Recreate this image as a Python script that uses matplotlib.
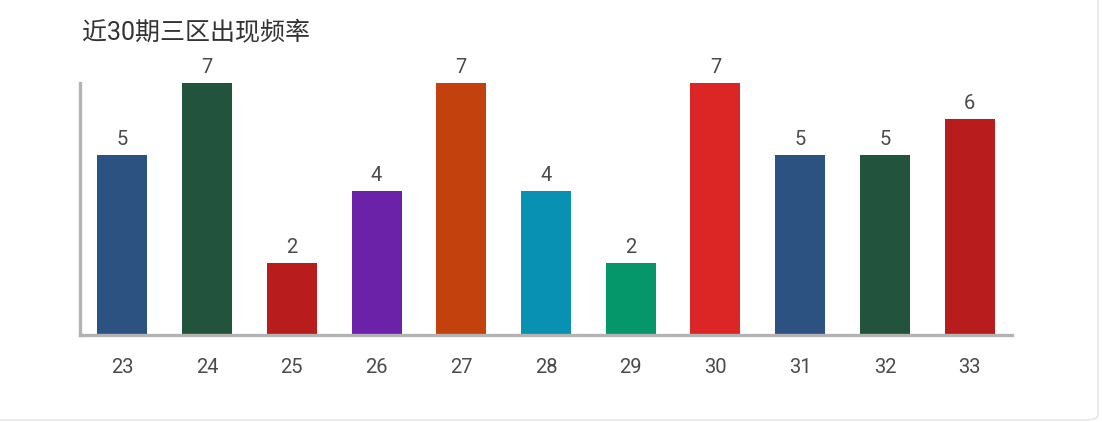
import matplotlib
matplotlib.use("Agg")
import matplotlib.pyplot as plt
from matplotlib.patches import FancyBboxPatch

categories = ["23", "24", "25", "26", "27", "28", "29", "30", "31", "32", "33"]
values = [5, 7, 2, 4, 7, 4, 2, 7, 5, 5, 6]
colors = ["#2c5282", "#22543d", "#b91c1c", "#6b21a8", "#c2410c", "#0891b2",
          "#059669", "#dc2626", "#2c5282", "#22543d", "#b91c1c"]
title = "近30期三区出现频率"

plt.rcParams['font.family'] = ['Roboto', 'Noto Sans CJK SC', 'DejaVu Sans']

W, H = 1102, 422
fig = plt.figure(figsize=(W / 100, H / 100), dpi=100)
fig.patch.set_facecolor("white")

# card border
card = FancyBboxPatch((-20 / W, 1 - 420 / H), (1098 + 20) / W, (420 + 20) / H,
                      boxstyle="round,pad=0,rounding_size=0.012",
                      transform=fig.transFigure, facecolor="white",
                      edgecolor="#e6e6e6", linewidth=1.2, zorder=-10)
fig.patches.append(card)

ax_l, ax_r, ax_t, ax_b = 80, 1012, 83, 335
ax = fig.add_axes([ax_l / W, 1 - ax_b / H, (ax_r - ax_l) / W, (ax_b - ax_t) / H])
ax.set_facecolor("none")
ax.set_zorder(5)

x = list(range(len(categories)))
bars = ax.bar(x, values, width=0.59, color=colors, zorder=2)
for xi, v in zip(x, values):
    ax.annotate(str(v), (xi, v), xytext=(0, 4.5), textcoords="offset points",
                ha="center", va="bottom", fontsize=14.5, color="#4a4a4a")

ax.set_xlim(-0.5, len(categories) - 0.5)
ax.set_ylim(0, 7)
ax.set_xticks(x)
ax.set_xticklabels(categories, fontsize=14.5, color="#4a4a4a")
ax.tick_params(axis="x", length=0, pad=16.5)
ax.set_yticks([])
for s in ["top", "right"]:
    ax.spines[s].set_visible(False)
for s in ["left", "bottom"]:
    ax.spines[s].set_color("#b3b3b3")
    ax.spines[s].set_linewidth(2.4)

fig.text(82 / W, 1 - 33 / H, title, fontsize=18, color="#333333",
         ha="left", va="center", zorder=6)

fig.savefig("out.png", dpi=100)
